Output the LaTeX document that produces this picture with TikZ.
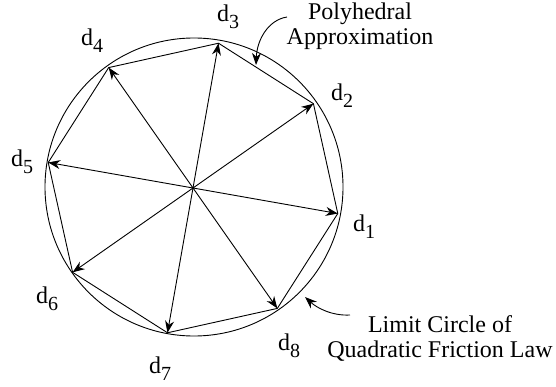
\documentclass[tikz,border=0pt]{standalone}
\usepackage{fontspec}
\setmainfont{Liberation Serif}
\usetikzlibrary{calc,arrows.meta}
\newcommand{\dlab}[1]{d\raisebox{-0.3em}{\fontsize{20pt}{20pt}\selectfont #1}}
\begin{document}
\begin{tikzpicture}[x=1pt,y=-1pt,
  line width=0.9pt,
  arr/.style={-{Stealth[length=12pt,width=9pt]}},
  lab/.style={font=\fontsize{24pt}{27pt}\selectfont, inner sep=0pt},
  note/.style={font=\fontsize{24pt}{25pt}\selectfont, align=center, inner sep=0pt}]
\useasboundingbox (0,0) rectangle (556,387);
\coordinate (c) at (193,188);
\coordinate (cc) at (194,187);
\draw (cc) circle[radius=149pt];
\foreach \i/\a in {1/10,2/-35,3/-80,4/-125,5/-170,6/-215,7/-260,8/-305}{
  \coordinate (p\i) at ($(c)+(\a:147)$);
}
\draw (p1) -- (p2) -- (p3) -- (p4) -- (p5) -- (p6) -- (p7) -- (p8) -- cycle;
\foreach \i in {1,...,8}{
  \draw[arr] (c) -- (p\i);
}
\node[lab] (l1) at (364,227) {\dlab{1}};
\node[lab] (l2) at (342,96) {\dlab{2}};
\node[lab] (l3) at (228,17) {\dlab{3}};
\node[lab] (l4) at (92,41) {\dlab{4}};
\node[lab] (l5) at (22,162) {\dlab{5}};
\node[lab] (l6) at (47,299) {\dlab{6}};
\node[lab] (l7) at (160,369) {\dlab{7}};
\node[lab] (l8) at (289,346) {\dlab{8}};
\node[note] (poly) at (360,26) {Polyhedral\\Approximation};
\node[note] (lim) at (440,338) {Limit Circle of\\Quadratic Friction Law};
\coordinate (a1s) at (287,17);
\coordinate (a1e) at (256,65);
\coordinate (a2s) at (350,315);
\coordinate (a2e) at (305,297);
\draw[arr] (a1s) .. controls (268,20) and (257,40) .. (a1e);
\draw[arr] (a2s) .. controls (332,316) and (317,308) .. (a2e);
\end{tikzpicture}
\end{document}
